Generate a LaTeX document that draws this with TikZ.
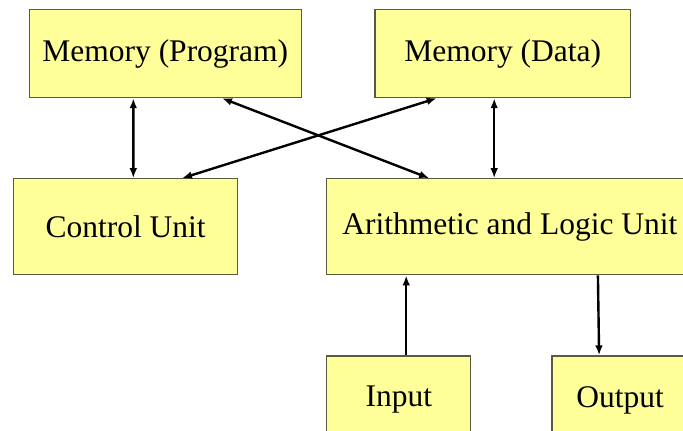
\documentclass[tikz,border=0pt]{standalone}
\usepackage{fontspec}
\setmainfont{Liberation Serif}
\usetikzlibrary{positioning,arrows.meta}
\definecolor{unitfill}{HTML}{FFFF99}
\definecolor{unitline}{HTML}{5A5A40}
\begin{document}
\begin{tikzpicture}[x=0.5pt, y=-0.5pt, node distance={40pt}, >={Latex[length=5pt,width=3.8pt]},
  main/.style = {draw=unitline, line width=0.6pt, fill=unitfill, inner sep=0pt, font=\fontsize{15.75}{18}\selectfont},
  link/.style = {line width=1.2pt}]
\useasboundingbox (0,0) rectangle (683,430);

\node[main, minimum width=136pt, minimum height=44pt, anchor=north west] (1) at (28.7,9) {Memory (Program)};
\node[main, minimum width=127.75pt, minimum height=44pt] (2) [right=36.25pt of 1] {Memory (Data)};

\node[main, minimum width=112pt, minimum height=48pt] (3) [below=40pt of 1.south west, anchor=north west, xshift=-7.85pt] {Control Unit};
\node[main, minimum width=183pt, minimum height=48pt] (4) [right=44pt of 3] {Arithmetic and Logic Unit};

\node[main, minimum width=72pt, minimum height=44pt] (5) [below=40pt of 4.south west, anchor=north west] {Input};
\node[main, minimum width=68pt, minimum height=44pt] (6) [right=40pt of 5] {Output};

\draw[link, <->] ([xshift=52.3pt]1.south west) -- ([xshift=60.15pt]3.north west);
\draw[link, <->] ([xshift=96.65pt]1.south west) -- ([xshift=51.5pt]4.north west);
\draw[link, <->] ([xshift=31.15pt]2.south west) -- ([xshift=84.5pt]3.north west);
\draw[link, <->] ([xshift=59.9pt]2.south west) -- ([xshift=84pt]4.north west);

\draw[link, ->] ([xshift=40pt]5.north west) -- ([xshift=40pt]4.south west);
\draw[link, ->] ([xshift=135.85pt]4.south west) -- ([xshift=23.85pt]6.north west);

\end{tikzpicture}
\end{document}
